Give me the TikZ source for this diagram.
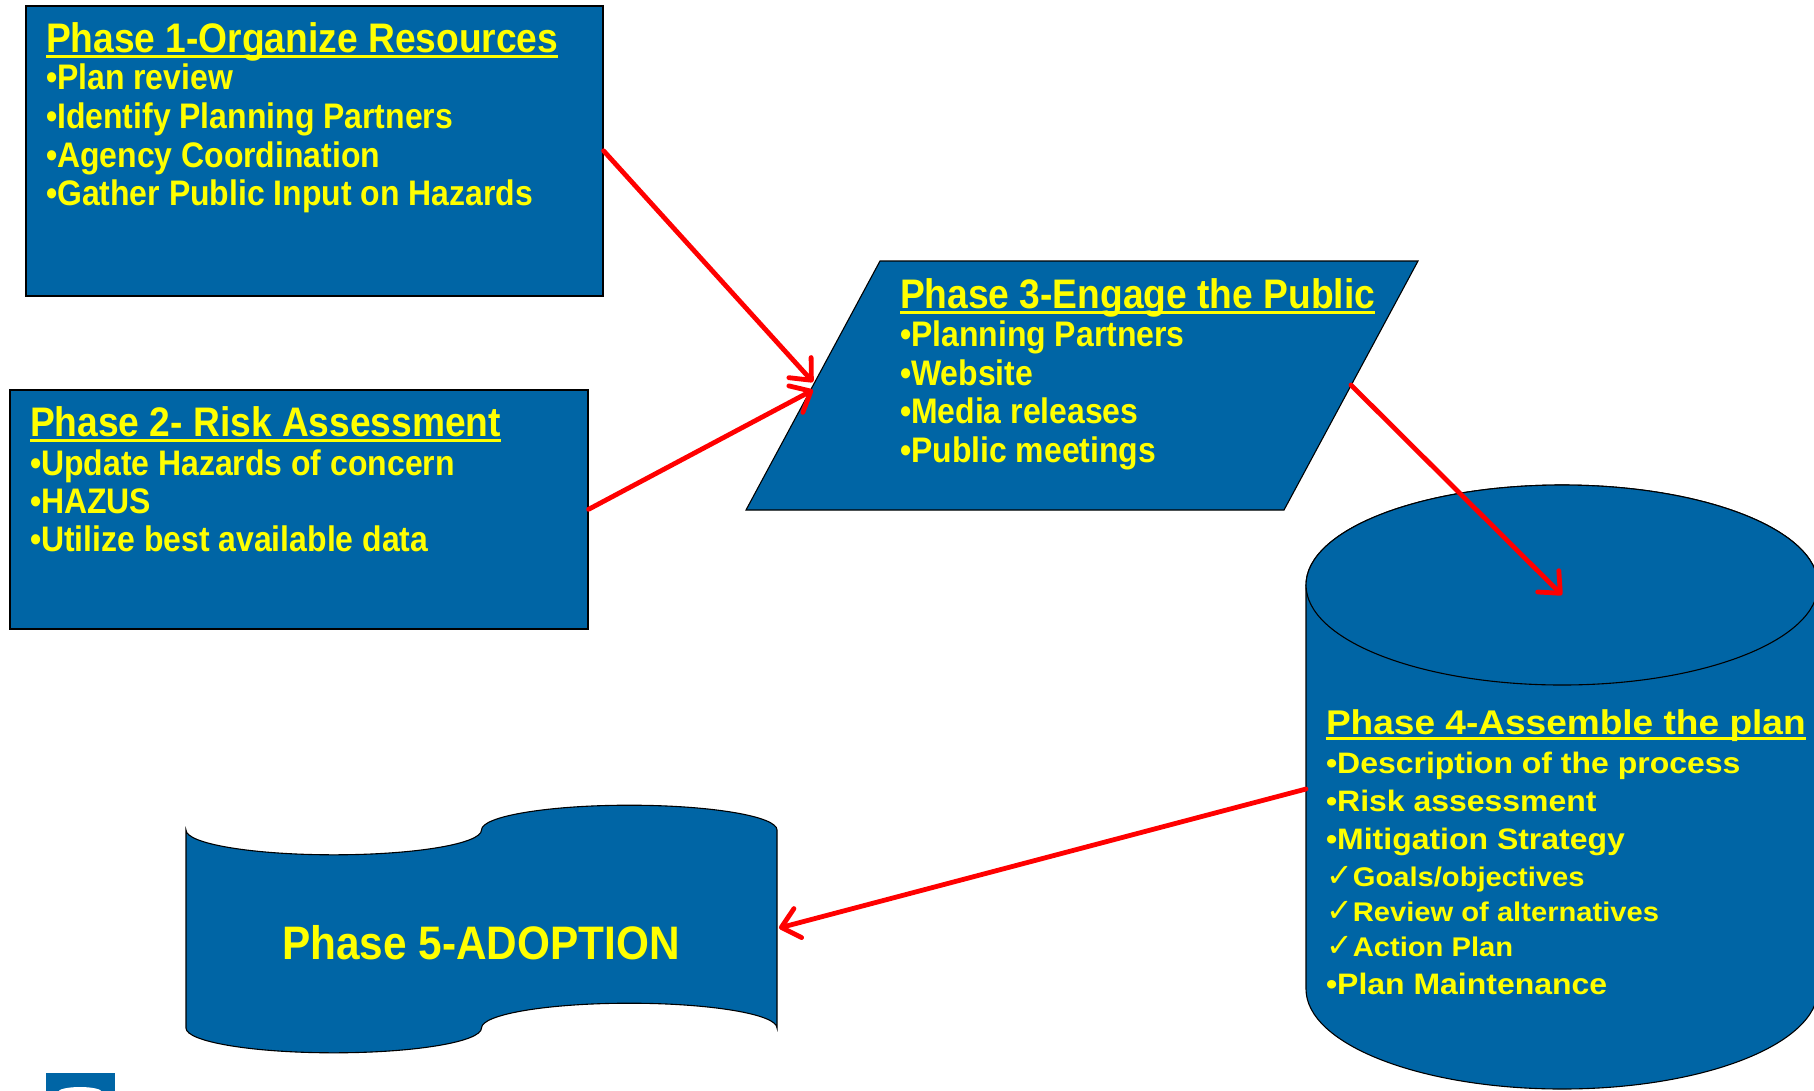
\documentclass[tikz,border=0pt]{standalone}
\usepackage{fontspec}
\setmainfont{Liberation Sans}
\newfontfamily\nar{Liberation Sans}[FakeStretch=0.9]
\newfontfamily\wid{Liberation Sans}[FakeStretch=1.08]
\newfontfamily\chk{DejaVu Sans}
\usetikzlibrary{arrows.meta}
\definecolor{boxblue}{RGB}{0,101,165}
\definecolor{ttyellow}{RGB}{255,255,0}
\begin{document}
\begin{tikzpicture}[x=1pt,y=-1pt,
  shp/.style={fill=boxblue, draw=black, line width=1.1pt},
  rbox/.style={shp, rectangle, line width=1.6pt, anchor=north west, inner sep=0pt},
  ln/.style={anchor=base west, inner sep=0pt, outer sep=0pt, text=ttyellow, font=\nar\bfseries\fontsize{35.5}{36}\selectfont},
  ttl/.style={ln, font=\nar\bfseries\fontsize{41.3}{42}\selectfont},
  uline/.style={draw=ttyellow, line width=3pt},
  ln4/.style={ln, font=\wid\bfseries\fontsize{29.6}{30}\selectfont},
  ttl4/.style={ln, font=\wid\bfseries\fontsize{34.3}{35}\selectfont},
  chk4/.style={ln, font=\wid\bfseries\fontsize{27}{28}\selectfont},
  arr/.style={draw=red, line width=4.8pt, line cap=round, -{Straight Barb[length=17pt,width=30pt,round]}}
]
\useasboundingbox (0,0) rectangle (1814,1090);
\fill[white] (0,0) rectangle (1814,1090);

% Phase 1
\node[rbox, minimum width=577pt, minimum height=290pt] (b1) at (25,5) {};
\node[ttl] (t1) at (46,52) {Phase 1-Organize Resources};
\draw[uline] ([yshift=-4.5pt]t1.base west) -- ([yshift=-4.5pt]t1.base east);
\node[ln] (t1a) at (46,89) {•Plan review};
\node[ln] (t1b) at (46,128) {•Identify Planning Partners};
\node[ln] (t1c) at (46,167) {•Agency Coordination};
\node[ln] (t1d) at (46,205) {•Gather Public Input on Hazards};

% Phase 2
\node[rbox, minimum width=578pt, minimum height=239pt] (b2) at (9,389) {};
\node[ttl] (t2) at (30,436) {Phase 2- Risk Assessment};
\draw[uline] ([yshift=-4.5pt]t2.base west) -- ([yshift=-4.5pt]t2.base east);
\node[ln] (t2a) at (30,475) {•Update Hazards of concern};
\node[ln] (t2b) at (30,513) {•HAZUS};
\node[ln] (t2c) at (30,551) {•Utilize best available data};

% Phase 3
\draw[shp] (880,261) -- (1418,261) -- (1284,510) -- (746,510) -- cycle;
\coordinate (p3in1) at (813,382);
\coordinate (p3in2) at (813,390);
\coordinate (p3out) at (1351,385);
\node[ttl] (t3) at (900,308) {Phase 3-Engage the Public};
\draw[uline] ([yshift=-4.5pt]t3.base west) -- ([yshift=-4.5pt]t3.base east);
\node[ln] (t3a) at (900,346) {•Planning Partners};
\node[ln] (t3b) at (900,385) {•Website};
\node[ln] (t3c) at (900,423) {•Media releases};
\node[ln] (t3d) at (900,462) {•Public meetings};

% Phase 4 cylinder
\draw[shp] (1306,585) -- (1306,989)
  arc[start angle=180, end angle=0, x radius=256, y radius=100]
  -- (1818,585)
  arc[start angle=0, end angle=-180, x radius=256, y radius=100] -- cycle;
\draw[shp] (1562,585) ellipse[x radius=256, y radius=100];
\coordinate (p4in) at (1562,595);
\coordinate (p4out) at (1306,789);
\node[ttl4] (t4) at (1326,734) {Phase 4-Assemble the plan};
\draw[uline] ([yshift=-4.5pt]t4.base west) -- ([yshift=-4.5pt]t4.base east);
\node[ln4] (t4a) at (1326,773) {•Description of the process};
\node[ln4] (t4b) at (1326,811) {•Risk assessment};
\node[ln4] (t4c) at (1326,849) {•Mitigation Strategy};
\node[chk4] (t4d) at (1326,886) {{\chk\fontsize{32}{32}\selectfont ✓}Goals/objectives};
\node[chk4] (t4e) at (1326,921) {{\chk\fontsize{32}{32}\selectfont ✓}Review of alternatives};
\node[chk4] (t4f) at (1326,956) {{\chk\fontsize{32}{32}\selectfont ✓}Action Plan};
\node[ln4] (t4g) at (1326,994) {•Plan Maintenance};

% Phase 5 punched tape
\draw[shp] (186,830)
  arc[start angle=180, end angle=0, x radius=147.75, y radius=24.8]
  arc[start angle=180, end angle=360, x radius=147.75, y radius=24.8]
  -- (777,1028)
  arc[start angle=0, end angle=-180, x radius=147.75, y radius=24.8]
  arc[start angle=0, end angle=180, x radius=147.75, y radius=24.8]
  -- cycle;
\coordinate (p5in) at (779,928);
\node[text=ttyellow, font=\nar\bfseries\fontsize{47}{48}\selectfont, inner sep=0pt] (t5) at (481,943) {Phase 5-ADOPTION};

% logo fragment
\fill[boxblue] (46,1073) rectangle (115,1092);
\fill[white] (80,1092) ellipse[x radius=22, y radius=5];

% connectors
\draw[arr] (b1.east) -- (p3in1);
\draw[arr] (b2.east) -- (p3in2);
\draw[arr] (p3out) -- (p4in);
\draw[arr] (p4out) -- (p5in);
\end{tikzpicture}
\end{document}
